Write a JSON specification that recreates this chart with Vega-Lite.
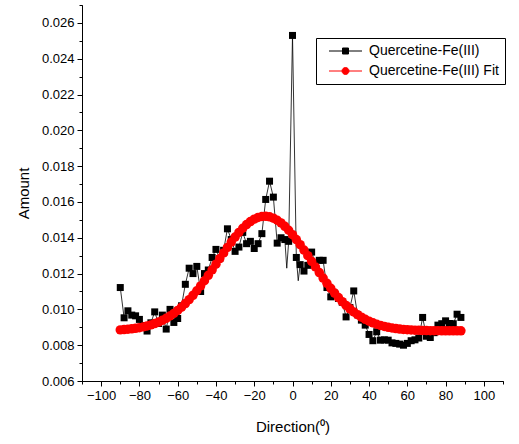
{
  "$schema": "https://vega.github.io/schema/vega-lite/v6.json",
  "width": 421,
  "height": 376,
  "autosize": {"type": "none"},
  "padding": {"left": 82, "top": 5, "right": 16, "bottom": 63},
  "background": "white",
  "config": {
    "view": {"stroke": null},
    "font": "Liberation Sans",
    "axis": {
      "grid": false,
      "domainColor": "black",
      "domainWidth": 1,
      "tickColor": "black",
      "tickWidth": 1,
      "labelColor": "black",
      "labelFont": "Liberation Sans",
      "labelFontSize": 13,
      "labelFlush": false,
      "labelOverlap": false,
      "titleFont": "Liberation Sans",
      "titleFontSize": 15,
      "titleFontWeight": "normal",
      "titleColor": "black"
    },
    "legend": {
      "title": null,
      "orient": "none",
      "legendX": 234,
      "legendY": 33,
      "strokeColor": "black",
      "fillColor": "white",
      "padding": 6,
      "cornerRadius": 0,
      "labelFont": "Liberation Sans",
      "labelFontSize": 14,
      "labelColor": "black",
      "labelOffset": 33,
      "labelLimit": 300,
      "rowPadding": 6,
      "symbolSize": 100,
      "symbolStrokeWidth": 1,
      "symbolOpacity": 1
    }
  },
  "data": {
    "values": [
      {"series": "Quercetine-Fe(III)", "direction": -90, "amount": 0.01122},
      {"series": "Quercetine-Fe(III)", "direction": -88, "amount": 0.00953},
      {"series": "Quercetine-Fe(III)", "direction": -86, "amount": 0.00992},
      {"series": "Quercetine-Fe(III)", "direction": -84, "amount": 0.00968},
      {"series": "Quercetine-Fe(III)", "direction": -82, "amount": 0.00964},
      {"series": "Quercetine-Fe(III)", "direction": -80, "amount": 0.00944},
      {"series": "Quercetine-Fe(III)", "direction": -78, "amount": 0.0091},
      {"series": "Quercetine-Fe(III)", "direction": -76, "amount": 0.00879},
      {"series": "Quercetine-Fe(III)", "direction": -74, "amount": 0.00925},
      {"series": "Quercetine-Fe(III)", "direction": -72, "amount": 0.00986},
      {"series": "Quercetine-Fe(III)", "direction": -70, "amount": 0.00921},
      {"series": "Quercetine-Fe(III)", "direction": -68, "amount": 0.00968},
      {"series": "Quercetine-Fe(III)", "direction": -66, "amount": 0.0089},
      {"series": "Quercetine-Fe(III)", "direction": -64, "amount": 0.0100},
      {"series": "Quercetine-Fe(III)", "direction": -62, "amount": 0.00927},
      {"series": "Quercetine-Fe(III)", "direction": -60, "amount": 0.00949},
      {"series": "Quercetine-Fe(III)", "direction": -58, "amount": 0.0102},
      {"series": "Quercetine-Fe(III)", "direction": -56, "amount": 0.0114},
      {"series": "Quercetine-Fe(III)", "direction": -54, "amount": 0.0123},
      {"series": "Quercetine-Fe(III)", "direction": -52, "amount": 0.0120},
      {"series": "Quercetine-Fe(III)", "direction": -50, "amount": 0.0124},
      {"series": "Quercetine-Fe(III)", "direction": -48, "amount": 0.0110},
      {"series": "Quercetine-Fe(III)", "direction": -46, "amount": 0.0120},
      {"series": "Quercetine-Fe(III)", "direction": -44, "amount": 0.0122},
      {"series": "Quercetine-Fe(III)", "direction": -42, "amount": 0.0129},
      {"series": "Quercetine-Fe(III)", "direction": -40, "amount": 0.01335},
      {"series": "Quercetine-Fe(III)", "direction": -38, "amount": 0.01284},
      {"series": "Quercetine-Fe(III)", "direction": -36, "amount": 0.0133},
      {"series": "Quercetine-Fe(III)", "direction": -34, "amount": 0.0145},
      {"series": "Quercetine-Fe(III)", "direction": -32, "amount": 0.0139},
      {"series": "Quercetine-Fe(III)", "direction": -30, "amount": 0.01324},
      {"series": "Quercetine-Fe(III)", "direction": -28, "amount": 0.01348},
      {"series": "Quercetine-Fe(III)", "direction": -26, "amount": 0.0143},
      {"series": "Quercetine-Fe(III)", "direction": -24, "amount": 0.01367},
      {"series": "Quercetine-Fe(III)", "direction": -22, "amount": 0.0138},
      {"series": "Quercetine-Fe(III)", "direction": -20, "amount": 0.0134},
      {"series": "Quercetine-Fe(III)", "direction": -18, "amount": 0.01367},
      {"series": "Quercetine-Fe(III)", "direction": -16, "amount": 0.01423},
      {"series": "Quercetine-Fe(III)", "direction": -14, "amount": 0.01614},
      {"series": "Quercetine-Fe(III)", "direction": -12, "amount": 0.01716},
      {"series": "Quercetine-Fe(III)", "direction": -10, "amount": 0.01627},
      {"series": "Quercetine-Fe(III)", "direction": -8, "amount": 0.0137},
      {"series": "Quercetine-Fe(III)", "direction": -6, "amount": 0.0140},
      {"series": "Quercetine-Fe(III)", "direction": -4, "amount": 0.0139},
      {"series": "Quercetine-Fe(III)", "direction": -3, "amount": 0.0123},
      {"series": "Quercetine-Fe(III)", "direction": -2, "amount": 0.0138},
      {"series": "Quercetine-Fe(III)", "direction": 0, "amount": 0.0253},
      {"series": "Quercetine-Fe(III)", "direction": 2, "amount": 0.0129},
      {"series": "Quercetine-Fe(III)", "direction": 3, "amount": 0.0116},
      {"series": "Quercetine-Fe(III)", "direction": 4, "amount": 0.0125},
      {"series": "Quercetine-Fe(III)", "direction": 6, "amount": 0.01214},
      {"series": "Quercetine-Fe(III)", "direction": 8, "amount": 0.01246},
      {"series": "Quercetine-Fe(III)", "direction": 10, "amount": 0.0132},
      {"series": "Quercetine-Fe(III)", "direction": 12, "amount": 0.0125},
      {"series": "Quercetine-Fe(III)", "direction": 14, "amount": 0.01274},
      {"series": "Quercetine-Fe(III)", "direction": 16, "amount": 0.01274},
      {"series": "Quercetine-Fe(III)", "direction": 18, "amount": 0.01122},
      {"series": "Quercetine-Fe(III)", "direction": 20, "amount": 0.0107},
      {"series": "Quercetine-Fe(III)", "direction": 22, "amount": 0.0109},
      {"series": "Quercetine-Fe(III)", "direction": 24, "amount": 0.01061},
      {"series": "Quercetine-Fe(III)", "direction": 26, "amount": 0.0104},
      {"series": "Quercetine-Fe(III)", "direction": 28, "amount": 0.00958},
      {"series": "Quercetine-Fe(III)", "direction": 30, "amount": 0.0101},
      {"series": "Quercetine-Fe(III)", "direction": 32, "amount": 0.01103},
      {"series": "Quercetine-Fe(III)", "direction": 34, "amount": 0.0097},
      {"series": "Quercetine-Fe(III)", "direction": 36, "amount": 0.0094},
      {"series": "Quercetine-Fe(III)", "direction": 38, "amount": 0.00912},
      {"series": "Quercetine-Fe(III)", "direction": 40, "amount": 0.0086},
      {"series": "Quercetine-Fe(III)", "direction": 42, "amount": 0.00825},
      {"series": "Quercetine-Fe(III)", "direction": 44, "amount": 0.00875},
      {"series": "Quercetine-Fe(III)", "direction": 46, "amount": 0.00828},
      {"series": "Quercetine-Fe(III)", "direction": 48, "amount": 0.0083},
      {"series": "Quercetine-Fe(III)", "direction": 50, "amount": 0.00828},
      {"series": "Quercetine-Fe(III)", "direction": 52, "amount": 0.00813},
      {"series": "Quercetine-Fe(III)", "direction": 54, "amount": 0.0081},
      {"series": "Quercetine-Fe(III)", "direction": 56, "amount": 0.00806},
      {"series": "Quercetine-Fe(III)", "direction": 58, "amount": 0.008},
      {"series": "Quercetine-Fe(III)", "direction": 60, "amount": 0.0081},
      {"series": "Quercetine-Fe(III)", "direction": 62, "amount": 0.00825},
      {"series": "Quercetine-Fe(III)", "direction": 64, "amount": 0.0083},
      {"series": "Quercetine-Fe(III)", "direction": 66, "amount": 0.0084},
      {"series": "Quercetine-Fe(III)", "direction": 68, "amount": 0.00955},
      {"series": "Quercetine-Fe(III)", "direction": 70, "amount": 0.0085},
      {"series": "Quercetine-Fe(III)", "direction": 72, "amount": 0.00843},
      {"series": "Quercetine-Fe(III)", "direction": 74, "amount": 0.0087},
      {"series": "Quercetine-Fe(III)", "direction": 76, "amount": 0.00912},
      {"series": "Quercetine-Fe(III)", "direction": 78, "amount": 0.0092},
      {"series": "Quercetine-Fe(III)", "direction": 80, "amount": 0.00936},
      {"series": "Quercetine-Fe(III)", "direction": 82, "amount": 0.00921},
      {"series": "Quercetine-Fe(III)", "direction": 84, "amount": 0.0092},
      {"series": "Quercetine-Fe(III)", "direction": 86, "amount": 0.00973},
      {"series": "Quercetine-Fe(III)", "direction": 88, "amount": 0.00955},
      {"series": "Quercetine-Fe(III) Fit", "direction": -90, "amount": 0.008855},
      {"series": "Quercetine-Fe(III) Fit", "direction": -88, "amount": 0.008871},
      {"series": "Quercetine-Fe(III) Fit", "direction": -86, "amount": 0.008891},
      {"series": "Quercetine-Fe(III) Fit", "direction": -84, "amount": 0.008914},
      {"series": "Quercetine-Fe(III) Fit", "direction": -82, "amount": 0.008944},
      {"series": "Quercetine-Fe(III) Fit", "direction": -80, "amount": 0.00898},
      {"series": "Quercetine-Fe(III) Fit", "direction": -78, "amount": 0.009023},
      {"series": "Quercetine-Fe(III) Fit", "direction": -76, "amount": 0.009074},
      {"series": "Quercetine-Fe(III) Fit", "direction": -74, "amount": 0.009135},
      {"series": "Quercetine-Fe(III) Fit", "direction": -72, "amount": 0.009207},
      {"series": "Quercetine-Fe(III) Fit", "direction": -70, "amount": 0.009292},
      {"series": "Quercetine-Fe(III) Fit", "direction": -68, "amount": 0.00939},
      {"series": "Quercetine-Fe(III) Fit", "direction": -66, "amount": 0.009503},
      {"series": "Quercetine-Fe(III) Fit", "direction": -64, "amount": 0.009631},
      {"series": "Quercetine-Fe(III) Fit", "direction": -62, "amount": 0.009777},
      {"series": "Quercetine-Fe(III) Fit", "direction": -60, "amount": 0.009941},
      {"series": "Quercetine-Fe(III) Fit", "direction": -58, "amount": 0.010123},
      {"series": "Quercetine-Fe(III) Fit", "direction": -56, "amount": 0.010324},
      {"series": "Quercetine-Fe(III) Fit", "direction": -54, "amount": 0.010545},
      {"series": "Quercetine-Fe(III) Fit", "direction": -52, "amount": 0.010784},
      {"series": "Quercetine-Fe(III) Fit", "direction": -50, "amount": 0.01104},
      {"series": "Quercetine-Fe(III) Fit", "direction": -48, "amount": 0.011313},
      {"series": "Quercetine-Fe(III) Fit", "direction": -46, "amount": 0.0116},
      {"series": "Quercetine-Fe(III) Fit", "direction": -44, "amount": 0.0119},
      {"series": "Quercetine-Fe(III) Fit", "direction": -42, "amount": 0.012209},
      {"series": "Quercetine-Fe(III) Fit", "direction": -40, "amount": 0.012524},
      {"series": "Quercetine-Fe(III) Fit", "direction": -38, "amount": 0.01284},
      {"series": "Quercetine-Fe(III) Fit", "direction": -36, "amount": 0.013155},
      {"series": "Quercetine-Fe(III) Fit", "direction": -34, "amount": 0.013462},
      {"series": "Quercetine-Fe(III) Fit", "direction": -32, "amount": 0.013759},
      {"series": "Quercetine-Fe(III) Fit", "direction": -30, "amount": 0.014039},
      {"series": "Quercetine-Fe(III) Fit", "direction": -28, "amount": 0.014299},
      {"series": "Quercetine-Fe(III) Fit", "direction": -26, "amount": 0.014532},
      {"series": "Quercetine-Fe(III) Fit", "direction": -24, "amount": 0.014737},
      {"series": "Quercetine-Fe(III) Fit", "direction": -22, "amount": 0.014907},
      {"series": "Quercetine-Fe(III) Fit", "direction": -20, "amount": 0.015041},
      {"series": "Quercetine-Fe(III) Fit", "direction": -18, "amount": 0.015135},
      {"series": "Quercetine-Fe(III) Fit", "direction": -16, "amount": 0.015188},
      {"series": "Quercetine-Fe(III) Fit", "direction": -14, "amount": 0.015199},
      {"series": "Quercetine-Fe(III) Fit", "direction": -12, "amount": 0.015167},
      {"series": "Quercetine-Fe(III) Fit", "direction": -10, "amount": 0.015093},
      {"series": "Quercetine-Fe(III) Fit", "direction": -8, "amount": 0.014979},
      {"series": "Quercetine-Fe(III) Fit", "direction": -6, "amount": 0.014826},
      {"series": "Quercetine-Fe(III) Fit", "direction": -4, "amount": 0.014638},
      {"series": "Quercetine-Fe(III) Fit", "direction": -2, "amount": 0.014419},
      {"series": "Quercetine-Fe(III) Fit", "direction": 0, "amount": 0.014172},
      {"series": "Quercetine-Fe(III) Fit", "direction": 2, "amount": 0.013901},
      {"series": "Quercetine-Fe(III) Fit", "direction": 4, "amount": 0.013613},
      {"series": "Quercetine-Fe(III) Fit", "direction": 6, "amount": 0.01331},
      {"series": "Quercetine-Fe(III) Fit", "direction": 8, "amount": 0.012998},
      {"series": "Quercetine-Fe(III) Fit", "direction": 10, "amount": 0.012682},
      {"series": "Quercetine-Fe(III) Fit", "direction": 12, "amount": 0.012366},
      {"series": "Quercetine-Fe(III) Fit", "direction": 14, "amount": 0.012054},
      {"series": "Quercetine-Fe(III) Fit", "direction": 16, "amount": 0.011749},
      {"series": "Quercetine-Fe(III) Fit", "direction": 18, "amount": 0.011455},
      {"series": "Quercetine-Fe(III) Fit", "direction": 20, "amount": 0.011175},
      {"series": "Quercetine-Fe(III) Fit", "direction": 22, "amount": 0.01091},
      {"series": "Quercetine-Fe(III) Fit", "direction": 24, "amount": 0.010662},
      {"series": "Quercetine-Fe(III) Fit", "direction": 26, "amount": 0.010432},
      {"series": "Quercetine-Fe(III) Fit", "direction": 28, "amount": 0.010222},
      {"series": "Quercetine-Fe(III) Fit", "direction": 30, "amount": 0.01003},
      {"series": "Quercetine-Fe(III) Fit", "direction": 32, "amount": 0.009857},
      {"series": "Quercetine-Fe(III) Fit", "direction": 34, "amount": 0.009702},
      {"series": "Quercetine-Fe(III) Fit", "direction": 36, "amount": 0.009565},
      {"series": "Quercetine-Fe(III) Fit", "direction": 38, "amount": 0.009444},
      {"series": "Quercetine-Fe(III) Fit", "direction": 40, "amount": 0.009339},
      {"series": "Quercetine-Fe(III) Fit", "direction": 42, "amount": 0.009248},
      {"series": "Quercetine-Fe(III) Fit", "direction": 44, "amount": 0.00917},
      {"series": "Quercetine-Fe(III) Fit", "direction": 46, "amount": 0.009103},
      {"series": "Quercetine-Fe(III) Fit", "direction": 48, "amount": 0.009047},
      {"series": "Quercetine-Fe(III) Fit", "direction": 50, "amount": 0.009},
      {"series": "Quercetine-Fe(III) Fit", "direction": 52, "amount": 0.008961},
      {"series": "Quercetine-Fe(III) Fit", "direction": 54, "amount": 0.008928},
      {"series": "Quercetine-Fe(III) Fit", "direction": 56, "amount": 0.008902},
      {"series": "Quercetine-Fe(III) Fit", "direction": 58, "amount": 0.00888},
      {"series": "Quercetine-Fe(III) Fit", "direction": 60, "amount": 0.008863},
      {"series": "Quercetine-Fe(III) Fit", "direction": 62, "amount": 0.008849},
      {"series": "Quercetine-Fe(III) Fit", "direction": 64, "amount": 0.008838},
      {"series": "Quercetine-Fe(III) Fit", "direction": 66, "amount": 0.008829},
      {"series": "Quercetine-Fe(III) Fit", "direction": 68, "amount": 0.008822},
      {"series": "Quercetine-Fe(III) Fit", "direction": 70, "amount": 0.008817},
      {"series": "Quercetine-Fe(III) Fit", "direction": 72, "amount": 0.008813},
      {"series": "Quercetine-Fe(III) Fit", "direction": 74, "amount": 0.008809},
      {"series": "Quercetine-Fe(III) Fit", "direction": 76, "amount": 0.008807},
      {"series": "Quercetine-Fe(III) Fit", "direction": 78, "amount": 0.008805},
      {"series": "Quercetine-Fe(III) Fit", "direction": 80, "amount": 0.008804},
      {"series": "Quercetine-Fe(III) Fit", "direction": 82, "amount": 0.008803},
      {"series": "Quercetine-Fe(III) Fit", "direction": 84, "amount": 0.008802},
      {"series": "Quercetine-Fe(III) Fit", "direction": 86, "amount": 0.008801},
      {"series": "Quercetine-Fe(III) Fit", "direction": 88, "amount": 0.008801}
    ]
  },
  "layer": [
    {
      "transform": [{"filter": "datum.series == 'Quercetine-Fe(III)'"}],
      "mark": {"type": "line", "color": "black", "strokeWidth": 0.8},
      "encoding": {
        "x": {
          "field": "direction", "type": "quantitative",
          "scale": {"domain": [-110, 110], "nice": false, "zero": false},
          "axis": {
            "orient": "bottom",
            "values": [-100, -80, -60, -40, -20, 0, 20, 40, 60, 80, 100],
            "tickSize": 5, "labelPadding": 3,
            "title": "Direction(⁰)", "titlePadding": 17
          }
        },
        "y": {
          "field": "amount", "type": "quantitative",
          "scale": {"domain": [0.006, 0.027], "nice": false, "zero": false},
          "axis": {
            "orient": "left",
            "values": [0.006, 0.008, 0.010, 0.012, 0.014, 0.016, 0.018, 0.020, 0.022, 0.024, 0.026],
            "format": ".3f",
            "tickSize": 5, "labelPadding": 3,
            "title": "Amount", "titlePadding": 10
          }
        }
      }
    },
    {
      "transform": [
        {"filter": "datum.series == 'Quercetine-Fe(III)'"},
        {"filter": "datum.direction % 2 == 0"}
      ],
      "mark": {"type": "point", "shape": "square", "filled": true, "size": 49, "opacity": 1},
      "encoding": {
        "x": {
          "field": "direction", "type": "quantitative",
          "scale": {"domain": [-110, 110], "nice": false, "zero": false},
          "axis": {
            "orient": "bottom",
            "values": [-110, -90, -70, -50, -30, -10, 10, 30, 50, 70, 90, 110],
            "tickSize": 3, "labels": false, "title": null
          }
        },
        "y": {
          "field": "amount", "type": "quantitative",
          "scale": {"domain": [0.006, 0.027], "nice": false, "zero": false},
          "axis": {
            "orient": "left",
            "values": [0.007, 0.009, 0.011, 0.013, 0.015, 0.017, 0.019, 0.021, 0.023, 0.025, 0.027],
            "tickSize": 3, "labels": false, "title": null
          }
        },
        "color": {
          "field": "series", "type": "nominal",
          "scale": {"domain": ["Quercetine-Fe(III)", "Quercetine-Fe(III) Fit"], "range": ["black", "red"]}
        }
      }
    },
    {
      "transform": [{"filter": "datum.series == 'Quercetine-Fe(III) Fit'"}],
      "mark": {"type": "line", "strokeWidth": 2, "point": {"filled": true, "size": 90, "opacity": 1}},
      "encoding": {
        "x": {
          "field": "direction", "type": "quantitative",
          "scale": {"domain": [-110, 110], "nice": false, "zero": false},
          "axis": null
        },
        "y": {
          "field": "amount", "type": "quantitative",
          "scale": {"domain": [0.006, 0.027], "nice": false, "zero": false},
          "axis": null
        },
        "color": {
          "field": "series", "type": "nominal",
          "scale": {"domain": ["Quercetine-Fe(III)", "Quercetine-Fe(III) Fit"], "range": ["black", "red"]}
        }
      }
    },
    {
      "transform": [{"filter": "datum.direction > 1000"}],
      "mark": {"type": "point", "filled": true, "opacity": 1},
      "encoding": {
        "x": {
          "field": "direction", "type": "quantitative",
          "scale": {"domain": [-110, 110], "nice": false, "zero": false},
          "axis": null
        },
        "y": {
          "field": "amount", "type": "quantitative",
          "scale": {"domain": [0.006, 0.027], "nice": false, "zero": false},
          "axis": null
        },
        "color": {
          "field": "series", "type": "nominal",
          "scale": {"domain": ["Quercetine-Fe(III)", "Quercetine-Fe(III) Fit"], "range": ["black", "red"]}
        },
        "shape": {
          "field": "series", "type": "nominal",
          "scale": {
            "domain": ["Quercetine-Fe(III)", "Quercetine-Fe(III) Fit"],
            "range": ["M0,0H6.6M2.7,-0.6H3.9V0.6H2.7Z", "M0,0H6.6M4,0A0.7,0.7,0,1,1,2.6,0A0.7,0.7,0,1,1,4,0Z"]
          }
        }
      }
    }
  ],
  "resolve": {"axis": {"x": "independent", "y": "independent"}}
}
